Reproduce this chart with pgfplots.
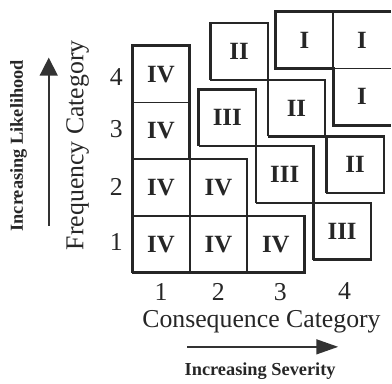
\documentclass[border=0pt]{standalone}
\usepackage{fontspec}
\setmainfont{Liberation Serif}
\usepackage{pgfplots}
\pgfplotsset{compat=1.18}
\usetikzlibrary{arrows.meta}
\begin{document}
\begin{tikzpicture}
\begin{axis}[
  x=57.7bp, y=57bp,
  xmin=0, xmax=4.5, ymin=0, ymax=4.805,
  clip=false,
  axis line style={draw=none},
  major tick length=0pt,
  xtick={0.5,1.5,2.58,3.7}, xticklabels={1,2,3,4},
  ytick={0.54,1.51,2.53,3.44}, yticklabels={1,2,3,4},
  /pgf/number format/assume math mode=true,
  tick label style={font=\fontsize{26}{26}\selectfont, text=black!85},
  xticklabel style={yshift=-7bp},
  yticklabel style={xshift=-6bp},
  xlabel={Consequence Category},
  ylabel={Frequency Category},
  label style={font=\fontsize{26}{26}\selectfont, text=black!85},
  xlabel style={at={(axis description cs:0.5,-0.181)}, anchor=center},
  ylabel style={at={(axis description cs:-0.212,0.4674)}, anchor=center},
  every axis plot/.append style={black!85},
]
% bounding box of the figure
\path (axis cs:-2.305,-1.86) rectangle (axis cs:4.5,4.805);

% ---- Group IV: cells (thin)
\addplot[line width=1.6bp] coordinates {(0,0) (1,0) (1,1) (0,1) (0,0)};
\addplot[line width=1.6bp] coordinates {(1,0) (2,0) (2,1) (1,1) (1,0)};
\addplot[line width=1.6bp] coordinates {(2,0) (3,0) (3,1) (2,1) (2,0)};
\addplot[line width=1.6bp] coordinates {(0,1) (1,1) (1,2) (0,2) (0,1)};
\addplot[line width=1.6bp] coordinates {(1,1) (2,1) (2,2) (1,2) (1,1)};
\addplot[line width=1.6bp] coordinates {(0,2) (1,2) (1,3) (0,3) (0,2)};
\addplot[line width=1.6bp] coordinates {(0,3) (1,3) (1,4) (0,4) (0,3)};
% Group IV outline (thick)
\addplot[line width=2.6bp] coordinates {(0,0) (3,0) (3,1) (2,1) (2,2) (1,2) (1,4) (0,4) (0,0)};

% ---- Group III
\addplot[line width=2.4bp] coordinates {(1.155,2.23) (2.155,2.23) (2.155,3.23) (1.155,3.23) (1.155,2.23)};
\addplot[line width=2.4bp] coordinates {(2.155,1.23) (3.155,1.23) (3.155,2.23) (2.155,2.23) (2.155,1.23)};
\addplot[line width=2.4bp] coordinates {(3.155,0.23) (4.155,0.23) (4.155,1.23) (3.155,1.23) (3.155,0.23)};

% ---- Group II
\addplot[line width=2.4bp] coordinates {(1.36,3.40) (2.36,3.40) (2.36,4.40) (1.36,4.40) (1.36,3.40)};
\addplot[line width=2.4bp] coordinates {(2.36,2.40) (3.36,2.40) (3.36,3.40) (2.36,3.40) (2.36,2.40)};
\addplot[line width=2.4bp] coordinates {(3.38,1.40) (4.38,1.40) (4.38,2.40) (3.38,2.40) (3.38,1.40)};

% ---- Group I
\addplot[line width=1.6bp] coordinates {(3.5,3.6) (3.5,4.6)};
\addplot[line width=1.6bp] coordinates {(3.5,3.6) (4.5,3.6)};
\addplot[line width=2.8bp] coordinates {(4.5,4.6) (2.5,4.6) (2.5,3.6) (3.5,3.6) (3.5,2.6) (4.5,2.6)};

% ---- Cell labels
\addplot[draw=none, mark=none, nodes near coords, point meta=explicit symbolic,
  nodes near coords style={anchor=center, font=\bfseries\fontsize{25}{25}\selectfont, text=black!85}]
  coordinates {
  (0.5,0.5) [IV] (1.5,0.5) [IV] (2.5,0.5) [IV]
  (0.5,1.5) [IV] (1.5,1.5) [IV]
  (0.5,2.5) [IV] (0.5,3.5) [IV]
  (1.655,2.73) [III] (2.655,1.73) [III] (3.655,0.73) [III]
  (1.86,3.90) [II] (2.86,2.90) [II] (3.88,1.90) [II]
  (3.0,4.1) [I] (4.0,4.1) [I] (4.0,3.1) [I]
  };

% ---- Annotations
\draw[black!80, line width=1.6bp, -{Triangle[length=18bp,width=18bp]}]
  (axis cs:-1.456,0.83) -- (axis cs:-1.456,3.79);
\node[rotate=90, font=\bfseries\fontsize{18.5}{18.5}\selectfont, text=black!85]
  at (axis cs:-1.984,2.237) {Increasing Likelihood};
\draw[black!80, line width=1.6bp, -{Triangle[length=22bp,width=15bp]}]
  (axis cs:0.953,-1.31) -- (axis cs:3.587,-1.31);
\node[anchor=base, font=\bfseries\fontsize{18.5}{18.5}\selectfont, text=black!85]
  at (axis cs:2.227,-1.82) {Increasing Severity};
\end{axis}
\end{tikzpicture}
\end{document}
